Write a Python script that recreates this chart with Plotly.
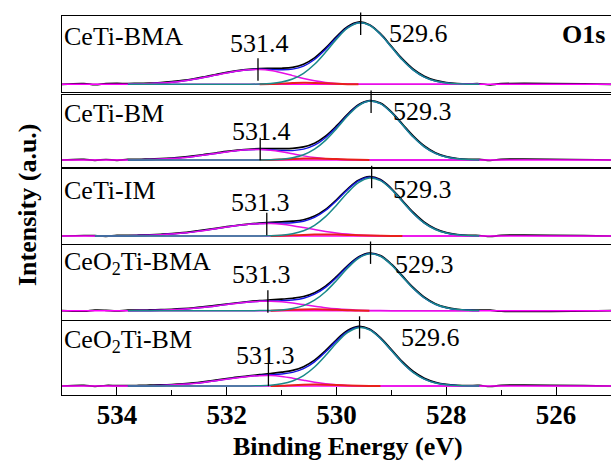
import plotly.graph_objects as go

N = None
# ---------------- data ----------------
energy = [535.0, 534.6, 534.4, 534.2, 534.0, 533.8, 533.6, 533.4, 533.2, 533.0,
          532.8, 532.6, 532.4, 532.2, 532.0, 531.8, 531.6, 531.4, 531.2, 531.0,
          530.8, 530.6, 530.4, 530.2, 530.0, 529.8, 529.6, 529.4, 529.2, 529.0,
          528.8, 528.6, 528.4, 528.2, 528.0, 527.8, 527.6, 527.4, 527.2, 527.0, 525.0]

panel_names = ["CeTi-BMA", "CeTi-BM", "CeTi-IM", "CeO<sub>2</sub>Ti-BMA", "CeO<sub>2</sub>Ti-BM"]
main_labels = ["529.6", "529.3", "529.3", "529.3", "529.6"]
shoulder_labels = ["531.4", "531.4", "531.3", "531.3", "531.3"]
main_pos = [529.56, 529.37, 529.36, 529.38, 529.58]
main_mark = [60.5, 58.3, 59.0, 58.0, 58.5]
shoulder_pos = [531.43, 531.39, 531.27, 531.25, 531.24]
shoulder_mark = [14.8, 11.0, 12.0, 9.2, 11.0]

main_1 = [N]*5 + [0]*10 + [0.02, 0.08, 0.28, 0.84, 2.26, 5.30, 10.96, 19.97, 32.01, 45.17, 56.11, 61.34,
                          59.04, 50.02, 37.30, 24.49, 14.15, 7.20, 3.22, 1.27, 0.44, 0.13, 0.04] + [N]*3
main_2 = [N]*5 + [0]*10 + [0, 0.02, 0.08, 0.28, 0.85, 2.26, 5.29, 10.87, 19.67, 31.33, 43.94, 54.23,
                          58.92, 56.35, 47.43, 35.15, 22.93, 13.16, 6.65, 2.96, 1.16, 0.40, 0.12] + [N]*3
main_3 = [N]*2 + [0]*13 + [0, 0.02, 0.08, 0.28, 0.84, 2.22, 5.20, 10.69, 19.34, 30.80, 43.19, 53.31,
                           57.92, 55.39, 46.62, 34.55, 22.54, 12.94, 6.54, 2.91, 1.14, 0.39, 0.12] + [N]*3
main_4 = [N]*5 + [0]*10 + [0, 0.02, 0.08, 0.27, 0.82, 2.18, 5.11, 10.50, 19.00, 30.27, 42.45, 52.39,
                          56.92, 54.43, 45.82, 33.95, 22.15, 12.71, 6.42, 2.86, 1.12, 0.39, 0.12] + [N]*3
main_5 = [N]*5 + [0]*10 + [0.02, 0.08, 0.27, 0.80, 2.15, 5.04, 10.42, 18.99, 30.44, 42.96, 53.36, 58.33,
                          56.15, 47.57, 35.47, 23.29, 13.46, 6.85, 3.06, 1.21, 0.42, 0.12, 0.04] + [N]*3

shoulder_1 = [N]*5 + [0.18, 0.36, 0.69, 1.25, 2.11, 3.34, 4.99, 6.99, 9.20, 11.38, 13.22, 14.43, 14.80,
                      13.84, 11.58, 8.68, 5.82, 3.49, 1.87, 0.90, 0.39, 0.15, 0.05, 0.01] + [0]*9 + [N]*3
shoulder_2 = [N]*5 + [0.13, 0.26, 0.49, 0.88, 1.49, 2.37, 3.54, 4.96, 6.53, 8.07, 9.38, 10.24, 10.50,
                      9.82, 8.22, 6.16, 4.13, 2.47, 1.33, 0.64, 0.27, 0.11, 0.04, 0.01] + [0]*9 + [N]*3
shoulder_3 = [N]*2 + [0.03, 0.06, 0.12, 0.23, 0.43, 0.74, 1.23, 1.93, 2.89, 4.13, 5.60, 7.25, 8.92, 10.44,
                      11.64, 12.35, 12.46, 11.77, 10.36, 8.49, 6.48, 4.60, 3.05, 1.88, 1.08, 0.58, 0.29,
                      0.13, 0.06, 0.02] + [0]*6 + [N]*3
shoulder_4 = [N]*5 + [0.06, 0.13, 0.27, 0.50, 0.89, 1.49, 2.34, 3.44, 4.76, 6.19, 7.56, 8.68, 9.36,
                      9.46, 8.87, 7.66, 6.09, 4.47, 3.02, 1.88, 1.08, 0.57, 0.28, 0.13, 0.05, 0.02] + [0]*7 + [N]*3
shoulder_5 = [N]*5 + [0.07, 0.15, 0.29, 0.56, 0.99, 1.65, 2.58, 3.80, 5.26, 6.85, 8.36, 9.59, 10.34,
                      10.45, 9.56, 7.83, 5.73, 3.76, 2.21, 1.16, 0.54, 0.23, 0.09, 0.03, 0.01] + [0]*8 + [N]*3

red_1 = [N]*17 + [0, 0.2, 0.7, 1.2, 1.5, 1.4, 1.0, 0.5, 0.15, 0] + [N]*14
red_2 = [N]*17 + [0, 0.1, 0.5, 1.0, 1.4, 1.5, 1.3, 0.9, 0.5, 0.2, 0] + [N]*13
red_3 = [N]*18 + [0, 0.3, 0.7, 1.1, 1.4, 1.5, 1.4, 1.1, 0.7, 0.4, 0.2, 0.05, 0] + [N]*10
red_4 = [N]*18 + [0, 0.4, 0.9, 1.3, 1.5, 1.3, 0.9, 0.5, 0.15, 0] + [N]*13
red_5 = [N]*18 + [0, 0.3, 0.8, 1.2, 1.4, 1.3, 1.0, 0.6, 0.3, 0.1, 0] + [N]*12

resid_1 = [0, 0.7, -0.4, 0.6, 0.9, 0.5, 0.6, 0.4, 0.5, 0.6, 0.5, 0.5, 0.6, 0.6, 0.5, 0.4, 0.4, 0.6, 1.0, 1.5,
           1.8, 1.8, 1.6, 1.3, 1.1, 1.0, 0.8, 0.5, 0.6, 0.7, 0.9, 1.0, 0.9, 0.7, 0.5, 0.3, 0.3, 0.5, -0.5, 0.6, 0]
resid_2 = [0, 0.6, -0.4, 0.5, -0.3, 0.4, 0.3, 0.5, 0.4, 0.4, 0.5, 0.6, 0.6, 0.5, 0.5, 0.4, 0.5, 0.7, 1.2, 1.8,
           2.2, 2.3, 2.0, 1.6, 1.2, 1.0, 0.7, 0.4, 0.6, 0.7, 0.9, 1.0, 0.9, 0.7, 0.5, 0.3, 0.3, 0.5, -0.5, 0.7, 0]
resid_3 = [0, 0.5, 0.3, -0.4, 0.5, 0.3, 0.4, 0.5, 0.5, 0.4, 0.4, 0.5, 0.5, 0.4, 0.4, 0.3, 0.3, 0.5, 0.8, 1.2,
           1.5, 1.5, 1.4, 1.2, 1.0, 0.8, 0.6, 0.4, 0.5, 0.7, 0.9, 1.0, 0.9, 0.7, 0.5, 0.3, 0.2, 0.4, -0.5, 0.6, 0]
resid_4 = [0, -0.5, 0.6, 0.4, -0.3, 0.5, 0.4, 0.5, 0.6, 0.5, 0.5, 0.5, 0.6, 0.6, 0.5, 0.4, 0.4, 0.6, 1.0, 1.4,
           1.7, 1.7, 1.5, 1.2, 1.0, 0.8, 0.6, 0.4, 0.5, 0.6, 0.8, 0.9, 0.8, 0.6, 0.4, 0.3, 0.3, 0.5, 0.6, -0.5, 0]
resid_5 = [0, 0.6, -0.4, 0.5, 0.4, 0.3, 0.4, 0.5, 0.5, 0.5, 0.5, 0.5, 0.6, 0.6, 0.5, 0.5, 0.5, 0.7, 1.2, 1.8,
           2.0, 2.0, 1.7, 1.4, 1.1, 0.9, 0.7, 0.6, 0.8, 0.9, 1.0, 1.0, 0.9, 0.7, 0.4, 0.3, 0.3, 0.5, -0.5, 0.6, 0]

mains = [main_1, main_2, main_3, main_4, main_5]
shoulders = [shoulder_1, shoulder_2, shoulder_3, shoulder_4, shoulder_5]
reds = [red_1, red_2, red_3, red_4, red_5]
resids = [resid_1, resid_2, resid_3, resid_4, resid_5]
baseline_x = [535.0, 525.0]
baseline_y = [0, 0]

# ---------------- layout geometry (pixels) ----------------
W, H = 611, 462
X0 = 62
tops = [15.7, 94.5, 168.5, 245.0, 321.0]
bots = [91.7, 167.0, 243.5, 320.0, 395.0]
bases = [84.3, 160.0, 236.0, 310.7, 386.0]
name_y = [36.5, 114.0, 190.8, 263.0, 341.0]
sh_lab = [(531.41, 41.3), (531.36, 29.0), (531.38, 33.5), (531.36, 36.7), (531.30, 31.0)]
mn_lab = [(528.50, 51.3), (528.44, 49.0), (528.44, 47.0), (528.39, 46.7), (528.29, 49.0)]

FONT = "Liberation Serif"
BLACK = "#000000"
MAG = "#ff00ff"
SHC = "#e60fe6"
RED = "#e8201c"
TEAL = "#1a8a8a"
BLUE = "#1414e0"


def v(a):
    return 0 if a is None else a


fig = go.Figure()
annotations = []
layout = dict(width=W, height=H, margin=dict(l=0, r=0, t=0, b=0),
              paper_bgcolor="white", plot_bgcolor="white", showlegend=False)

for i in range(5):
    n = i + 1
    xa, ya = f"x{n}", f"y{n}"
    window = [k for k in range(len(energy)) if mains[i][k] is not None]
    env = [None] * len(energy)
    for k in window:
        env[k] = v(mains[i][k]) + v(shoulders[i][k]) + v(reds[i][k])
    data = [v(env[k]) + resids[i][k] for k in range(len(energy))]
    common = dict(mode="lines", line_shape="spline", xaxis=xa, yaxis=ya, hoverinfo="skip")
    fig.add_trace(go.Scatter(x=energy, y=data, line=dict(color=BLACK, width=1.7), **common))
    fig.add_trace(go.Scatter(x=baseline_x, y=baseline_y, mode="lines", xaxis=xa, yaxis=ya,
                             line=dict(color=MAG, width=1.6)))
    fig.add_trace(go.Scatter(x=energy, y=env, line=dict(color=BLUE, width=1.4), **common))
    fig.add_trace(go.Scatter(x=energy, y=shoulders[i], line=dict(color=SHC, width=1.5), **common))
    fig.add_trace(go.Scatter(x=energy, y=reds[i], line=dict(color=RED, width=2), **common))
    fig.add_trace(go.Scatter(x=energy, y=mains[i], line=dict(color=TEAL, width=1.5), **common))
    fig.add_trace(go.Scatter(x=[main_pos[i], shoulder_pos[i]], y=[main_mark[i], shoulder_mark[i]],
                             mode="markers", xaxis=xa, yaxis=ya, cliponaxis=False,
                             marker=dict(symbol="line-ns", size=16,
                                         line=dict(color=BLACK, width=1.3))))

    last = (i == 4)
    xdict = dict(range=[535, 525], domain=[X0 / W, 1], anchor=ya,
                 showline=True, mirror=True, linecolor=BLACK, linewidth=1.3,
                 showgrid=False, zeroline=False,
                 showticklabels=last, ticks="inside" if last else "",
                 tick0=0, dtick=2, ticklen=8, tickwidth=1.3, tickcolor=BLACK,
                 ticklabelstandoff=-5,
                 tickfont=dict(family=FONT, size=27, color=BLACK, weight="bold"))
    if last:
        xdict["minor"] = dict(ticks="inside", ticklen=5, dtick=1, tick0=0,
                              tickwidth=1.3, tickcolor=BLACK, showgrid=False)
    if i > 0:
        xdict["matches"] = "x"
    layout["xaxis" if n == 1 else f"xaxis{n}"] = xdict
    layout["yaxis" if n == 1 else f"yaxis{n}"] = dict(
        domain=[1 - bots[i] / H, 1 - tops[i] / H], anchor=xa,
        range=[-(bots[i] - bases[i]), bases[i] - tops[i]],
        showline=True, mirror=False, linecolor=BLACK, linewidth=1.3,
        showticklabels=False, ticks="", showgrid=False, zeroline=False)

    annotations.append(dict(text=panel_names[i], xref="paper", yref="paper",
                            x=62 / W, y=1 - name_y[i] / H, xanchor="left", yanchor="middle",
                            showarrow=False, font=dict(family=FONT, size=26, color=BLACK)))
    annotations.append(dict(text=shoulder_labels[i], xref=xa, yref=ya,
                            x=sh_lab[i][0], y=sh_lab[i][1], xanchor="center", yanchor="middle",
                            showarrow=False, font=dict(family=FONT, size=26, color=BLACK)))
    annotations.append(dict(text=main_labels[i], xref=xa, yref=ya,
                            x=mn_lab[i][0], y=mn_lab[i][1], xanchor="center", yanchor="middle",
                            showarrow=False, font=dict(family=FONT, size=26, color=BLACK)))

annotations.append(dict(text="<b>O1s</b>", xref="paper", yref="paper", x=607 / W, y=1 - 34 / H,
                        xanchor="right", yanchor="middle", showarrow=False,
                        font=dict(family=FONT, size=26, color=BLACK)))
annotations.append(dict(text="<b>Intensity (a.u.)</b>", xref="paper", yref="paper",
                        x=27 / W, y=1 - 205 / H, xanchor="center", yanchor="middle",
                        textangle=-90, showarrow=False,
                        font=dict(family=FONT, size=26, color=BLACK)))
annotations.append(dict(text="<b>Binding Energy (eV)</b>", xref="paper", yref="paper",
                        x=348 / W, y=1 - 446 / H, xanchor="center", yanchor="middle",
                        showarrow=False, font=dict(family=FONT, size=26, color=BLACK)))
layout["annotations"] = annotations
fig.update_layout(**layout)
fig.write_html("out.html")
